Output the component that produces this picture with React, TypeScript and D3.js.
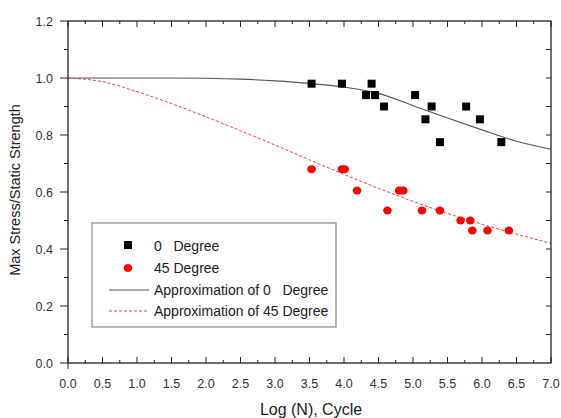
import React from "react";
import { scaleLinear, line, curveMonotoneX, range } from "d3";

// measured points
const deg0X = [3.53, 3.97, 4.40, 4.32, 4.45, 4.58, 5.03, 5.27, 5.18, 5.39, 5.77, 5.97, 6.28];
const deg0Y = [0.98, 0.98, 0.98, 0.94, 0.94, 0.90, 0.94, 0.90, 0.855, 0.775, 0.90, 0.855, 0.775];
const deg45X = [3.53, 3.97, 4.01, 4.19, 4.63, 4.80, 4.86, 5.13, 5.39, 5.69, 5.83, 5.86, 6.08, 6.39];
const deg45Y = [0.68, 0.68, 0.68, 0.605, 0.535, 0.605, 0.605, 0.535, 0.535, 0.50, 0.50, 0.465, 0.465, 0.465];

// approximation curves
const fitX = [0, 0.5, 1, 1.5, 2, 2.5, 3, 3.5, 4, 4.5, 5, 5.5, 6, 6.5, 7];
const fit0Y = [1.0, 1.0, 1.0, 1.0, 0.999, 0.996, 0.99, 0.981, 0.968, 0.946, 0.903, 0.86, 0.818, 0.778, 0.75];
const fit45Y = [1.0, 0.987, 0.952, 0.91, 0.864, 0.815, 0.765, 0.713, 0.662, 0.613, 0.567, 0.525, 0.487, 0.452, 0.42];

const legendLabels = ["0\u00A0\u00A0\u00A0Degree", "45 Degree", "Approximation of 0\u00A0\u00A0\u00A0Degree", "Approximation of 45 Degree"];

const xTicks = range(0, 7.01, 0.5);
const yTicks = range(0, 1.21, 0.2);

const font = "'Liberation Sans', Arial, sans-serif";

const App = () => {
  const width = 561;
  const height = 418;
  const x = scaleLinear().domain([0, 7]).range([68, 551]);
  const y = scaleLinear().domain([0, 1.2]).range([363, 21]);
  const x0 = x(0), x1 = x(7), y0 = y(0), y1 = y(1.2);

  const fitLine = line<number>()
    .x((d, i) => x(fitX[i]))
    .y((d) => y(d))
    .curve(curveMonotoneX);

  const minorX = range(0.25, 7, 0.5);
  const minorY = range(0.1, 1.2, 0.2);
  const allY = range(0.1, 1.2, 0.1);

  return (
    <svg width={width} height={height} style={{ position: "absolute", left: 0, top: 0 }} fontFamily={font}>
      <rect width={width} height={height} fill="#fff" />
      {/* curves */}
      <path d={fitLine(fit0Y) || ""} fill="none" stroke="#555" strokeWidth={1.1} />
      <path d={fitLine(fit45Y) || ""} fill="none" stroke="#ff3b3b" strokeWidth={1} strokeDasharray="3,2" />

      {/* frame */}
      <rect x={x0} y={y1} width={x1 - x0} height={y0 - y1} fill="none" stroke="#222" strokeWidth={1.3} />

      {/* bottom axis: inward ticks */}
      {xTicks.map((t, i) => (
        <g key={"xt" + i}>
          <line x1={x(t)} x2={x(t)} y1={y0} y2={y0 - 6} stroke="#222" />
          <line x1={x(t)} x2={x(t)} y1={y1} y2={y1 + 6} stroke="#222" />
          <text x={x(t)} y={388} textAnchor="middle" fontSize={12.5} fill="#333">
            {t.toFixed(1)}
          </text>
        </g>
      ))}
      {minorX.map((t, i) => (
        <g key={"xm" + i}>
          <line x1={x(t)} x2={x(t)} y1={y0} y2={y0 - 3} stroke="#222" />
          <line x1={x(t)} x2={x(t)} y1={y1} y2={y1 + 3} stroke="#222" />
        </g>
      ))}
      <line x1={x0} x2={x0} y1={y0} y2={y0 + 6} stroke="#222" />

      {/* left axis: outward ticks */}
      {yTicks.map((t, i) => (
        <g key={"yt" + i}>
          <line x1={x0} x2={x0 - 8} y1={y(t)} y2={y(t)} stroke="#222" />
          <text x={53} y={y(t) + 4.5} textAnchor="end" fontSize={12.5} fill="#333">
            {t.toFixed(1)}
          </text>
        </g>
      ))}
      {minorY.map((t, i) => (
        <line key={"ym" + i} x1={x0} x2={x0 - 4} y1={y(t)} y2={y(t)} stroke="#222" />
      ))}
      {/* right axis: inward ticks */}
      {allY.map((t, i) => (
        <line key={"yr" + i} x1={x1} x2={x1 - 5} y1={y(t)} y2={y(t)} stroke="#222" />
      ))}

      {/* points */}
      {deg0X.map((d, i) => (
        <rect key={"s" + i} x={x(d) - 4} y={y(deg0Y[i]) - 4} width={8} height={8} fill="#000" />
      ))}
      {deg45X.map((d, i) => (
        <ellipse key={"c" + i} cx={x(d)} cy={y(deg45Y[i])} rx={4.3} ry={4} fill="#f00" />
      ))}

      {/* legend */}
      <g fontSize={14} fill="#222">
        <rect x={92} y={223} width={244} height={104} fill="#fff" stroke="#888" strokeWidth={1.2} />
        <rect x={124} y={241} width={8} height={8} fill="#000" />
        <text x={154} y={251}>{legendLabels[0]}</text>
        <ellipse cx={128} cy={268} rx={4.3} ry={4} fill="#f00" />
        <text x={154} y={273}>{legendLabels[1]}</text>
        <line x1={109} x2={149} y1={290} y2={290} stroke="#555" />
        <text x={154} y={295}>{legendLabels[2]}</text>
        <line x1={109} x2={149} y1={311} y2={311} stroke="#ff3b3b" strokeDasharray="3,2" />
        <text x={154} y={316}>{legendLabels[3]}</text>
      </g>

      {/* axis titles */}
      <text x={311} y={415} textAnchor="middle" fontSize={16} fill="#222">
        Log (N), Cycle
      </text>
      <text transform={`translate(20,190) rotate(-90)`} textAnchor="middle" fontSize={14.5} fill="#222">
        Max Stress/Static Strength
      </text>
    </svg>
  );
};

export default App;
